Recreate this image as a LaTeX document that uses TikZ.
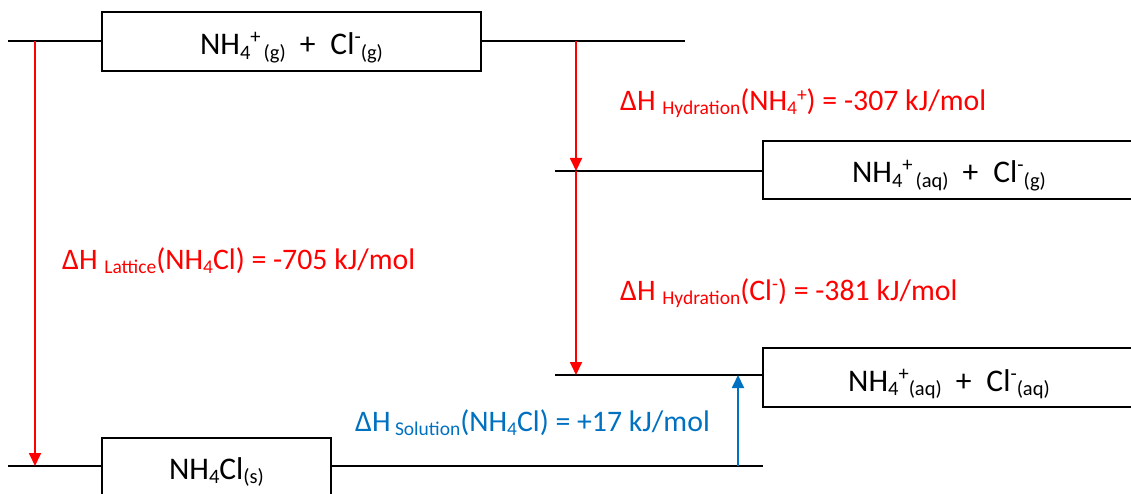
\documentclass[tikz,border=0pt]{standalone}
\usepackage{fontspec}
\setmainfont{Carlito}
\usetikzlibrary{arrows.meta}
\definecolor{wred}{RGB}{255,0,0}
\definecolor{wblue}{RGB}{0,112,192}
\newcommand\dn[1]{\raisebox{-4pt}{\fontsize{19.5}{20}\selectfont #1}}
\newcommand\up[1]{\raisebox{9.5pt}{\fontsize{19.5}{20}\selectfont #1}}
\newcommand\bdn[1]{\raisebox{-4.5pt}{\fontsize{20.5}{21}\selectfont #1}}
\newcommand\bup[1]{\raisebox{11pt}{\fontsize{20.5}{21}\selectfont #1}}
\newcommand\bplus{\hspace{14pt}+\hspace{15pt}}
\begin{document}
\begin{tikzpicture}[x=1pt,y=-1pt,
  every node/.style={font=\fontsize{29.8}{32}\selectfont, inner sep=0pt},
  statebox/.style={draw=black, line width=1.6pt, fill=white, rectangle,
    font=\fontsize{31.5}{34}\selectfont},
  levelline/.style={draw=black, line width=1.6pt},
  redarrow/.style={draw=wred, line width=1.8pt, -{Triangle[length=13pt,width=12pt]}},
  bluearrow/.style={draw=wblue, line width=1.8pt, -{Triangle[length=13pt,width=12pt]}},
  redlabel/.style={text=wred, anchor=base west},
  bluelabel/.style={text=wblue, anchor=base west}]
\useasboundingbox (0,0) rectangle (1131,494);
\clip (0,0) rectangle (1131,494);
% state boxes
\node[statebox, text width=379pt, align=center, text height=43pt, text depth=16pt] (gas) at (291.5,41.5)
  {NH\bdn{4}\bup{+}\hspace{3pt}\bdn{(g)}\bplus Cl\bup{-}\bdn{(g)}};
\node[statebox, text width=372pt, align=center, text height=42pt, text depth=16pt] (aqg) at (949,170)
  {NH\bdn{4}\bup{+}\hspace{3pt}\bdn{(aq)}\bplus Cl\bup{-}\bdn{(g)}};
\node[statebox, text width=372pt, align=center, text height=43pt, text depth=16pt] (aqaq) at (949,377.5)
  {NH\bdn{4}\bup{+}\bdn{(aq)}\bplus Cl\bup{-}\bdn{(aq)}};
\node[statebox, text width=229pt, align=center, text height=41pt, text depth=18pt] (solid) at (216.5,467.5)
  {NH\bdn{4}Cl\bdn{(s)}};
% level line ends
\coordinate (g0) at (8,41);
\coordinate (g1) at (685,41);
\coordinate (a0) at (555,171);
\coordinate (b0) at (555,375);
\coordinate (s0) at (8,466);
\coordinate (s1) at (763,466);
\draw[levelline] (g0) -- (gas.west |- g0);
\draw[levelline] (gas.east |- g1) -- (g1);
\draw[levelline] (a0) -- (aqg.west |- a0);
\draw[levelline] (b0) -- (aqaq.west |- b0);
\draw[levelline] (s0) -- (solid.west |- s0);
\draw[levelline] (solid.east |- s1) -- (s1);
% arrow ends
\coordinate (lt0) at (35,41);
\coordinate (lt1) at (35,466);
\coordinate (h0) at (576,41);
\coordinate (h1) at (576,171);
\coordinate (h2) at (576,375);
\coordinate (so0) at (738,466);
\coordinate (so1) at (738,375);
\draw[redarrow] (lt0) -- (lt1);
\draw[redarrow] (h0) -- (h1);
\draw[redarrow] (h1) -- (h2);
\draw[bluearrow] (so0) -- (so1);
% labels
\node[redlabel] (lhyd1) at (620,111) {ΔH \dn{Hydration}(NH\dn{4}\up{+}) = -307 kJ/mol};
\node[redlabel] (llat) at (62,269) {ΔH \dn{Lattice}(NH\dn{4}Cl) = -705 kJ/mol};
\node[redlabel] (lhyd2) at (620,300) {ΔH \dn{Hydration}(Cl\up{-}) = -381 kJ/mol};
\node[bluelabel] (lsol) at (355,431) {ΔH\dn{ Solution}(NH\dn{4}Cl) = +17 kJ/mol};
\end{tikzpicture}
\end{document}
